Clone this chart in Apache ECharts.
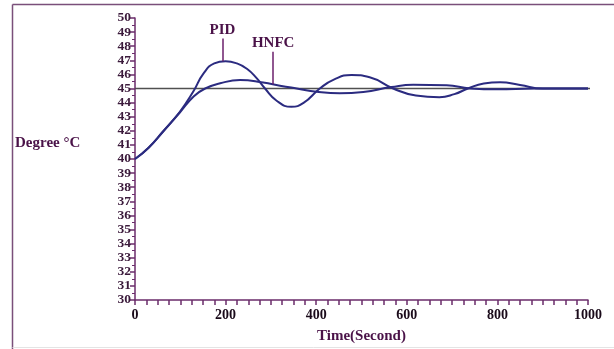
<!DOCTYPE html>
<html>
<head>
<meta charset="utf-8">
<script src="https://cdn.jsdelivr.net/npm/echarts@6/dist/echarts.min.js"></script>
<style>
  html, body { margin: 0; padding: 0; background: #fff; }
  #chart { width: 614px; height: 349px; }
</style>
</head>
<body>
<div id="chart"></div>
<script>
// Temperature response of the two controllers, [time (s), degree °C]
const pidResponse = [
  [0, 40], [30, 40.8], [62, 41.95], [99, 43.35], [129, 44.8], [151, 46.05],
  [175, 46.78], [200, 46.93], [225, 46.78], [247, 46.4], [268, 45.75], [287, 45.0],
  [312, 44.15], [345, 43.7], [372, 43.98], [408, 45.0], [440, 45.65], [478, 45.96],
  [518, 45.8], [570, 45.0], [620, 44.5], [672, 44.38], [705, 44.6], [735, 45.0],
  [770, 45.35], [806, 45.44], [850, 45.25], [900, 45.0], [1000, 45.0]
];
const hnfcResponse = [
  [0, 40], [30, 40.8], [62, 41.95], [99, 43.3], [130, 44.45], [155, 45.0],
  [188, 45.37], [232, 45.6], [283, 45.42], [320, 45.2], [357, 45.0],
  [401, 44.77], [452, 44.66], [504, 44.75], [566, 45.1], [614, 45.27],
  [688, 45.23], [740, 45.0], [800, 44.94], [880, 45.0], [1000, 45.0]
];
// Set point
const setPoint = [[0, 45], [1037, 45]];

// Callout leaders: [time, from degree, to degree]
const pidCallout = [193, 46.93, 48.55];
const hnfcCallout = [305, 45.3, 47.6];

const timeTicks = [0, 200, 400, 600, 800, 1000];
const degreeRange = [30, 50];

const serif = 'Liberation Serif';
const ink = '#4a1248';
const curveColor = '#2b2b80';

const chart = echarts.init(document.getElementById('chart'));

function callout(c, text) {
  return {
    silent: true,
    symbol: 'none',
    lineStyle: { color: '#6b1f6b', width: 1.5, type: 'solid' },
    label: {
      show: true, position: 'end', distance: 1,
      formatter: text,
      fontFamily: serif, fontWeight: 'bold', fontSize: 15, color: ink
    },
    data: [[{ coord: [c[0], c[1]] }, { coord: [c[0], c[2]] }]]
  };
}

chart.setOption({
  animation: false,
  backgroundColor: '#fff',
  grid: { left: 135, right: 26, top: 18, bottom: 49 },
  xAxis: {
    type: 'value',
    min: timeTicks[0], max: timeTicks[timeTicks.length - 1], interval: 200,
    name: 'Time(Second)', nameLocation: 'middle', nameGap: 29,
    nameTextStyle: { fontFamily: serif, fontWeight: 'bold', fontSize: 15, color: ink },
    axisLine: { lineStyle: { color: '#6b2c6b', width: 1.5 } },
    axisTick: { lineStyle: { color: '#6b2c6b', width: 1.5 }, length: 5 },
    minorTick: { show: true, splitNumber: 8, length: 5, lineStyle: { color: '#6b2c6b', width: 1.5 } },
    splitLine: { show: false },
    axisLabel: {
      fontFamily: serif, fontWeight: 'bold', fontSize: 14, color: '#1a0a1a', margin: 8,
      formatter: v => String(v)
    }
  },
  yAxis: {
    type: 'value',
    min: degreeRange[0], max: degreeRange[1], interval: 1,
    axisLine: { show: true, lineStyle: { color: '#6b2c6b', width: 1.5 } },
    axisTick: { show: true, lineStyle: { color: '#6b2c6b', width: 1.5 }, length: 5 },
    minorTick: { show: true, splitNumber: 2, length: 3, lineStyle: { color: '#6b2c6b', width: 1 } },
    splitLine: { show: false },
    axisLabel: { fontFamily: serif, fontWeight: 'bold', fontSize: 13.5, color: '#3b1a3b', margin: 4 }
  },
  graphic: [
    { type: 'line', silent: true, shape: { x1: 12.5, y1: 4.5, x2: 12.5, y2: 349 },
      style: { stroke: '#7a4f7a', lineWidth: 1.5 } },
    { type: 'line', silent: true, shape: { x1: 12.5, y1: 4.5, x2: 614, y2: 4.5 },
      style: { stroke: '#7a4f7a', lineWidth: 1.5 } },
    { type: 'line', silent: true, shape: { x1: 12.5, y1: 347.5, x2: 614, y2: 347.5 },
      style: { stroke: '#e4e4e4', lineWidth: 1 } },
    { type: 'text', left: 15, top: 136,
      style: { text: 'Degree °C', fontFamily: serif, fontWeight: 'bold', fontSize: 15, fill: ink } }
  ],
  series: [
    {
      name: 'Set point', type: 'line', data: setPoint, clip: false,
      symbol: 'none', silent: true,
      lineStyle: { color: '#505050', width: 1.5 }, z: 1
    },
    {
      name: 'PID', type: 'line', data: pidResponse,
      smooth: 0.5, symbol: 'none',
      lineStyle: { color: curveColor, width: 2 }, z: 3,
      markLine: callout(pidCallout, 'PID')
    },
    {
      name: 'HNFC', type: 'line', data: hnfcResponse,
      smooth: 0.5, symbol: 'none',
      lineStyle: { color: curveColor, width: 2 }, z: 3,
      markLine: callout(hnfcCallout, 'HNFC')
    }
  ]
});
</script>
</body>
</html>
